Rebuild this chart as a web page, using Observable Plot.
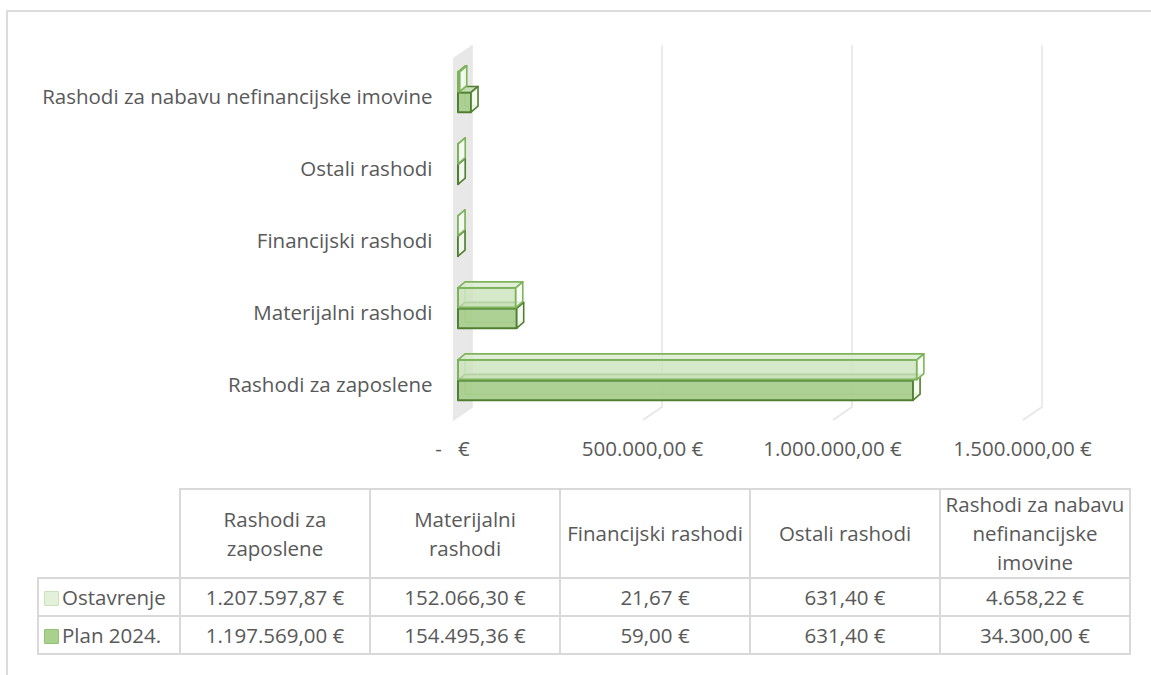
<!DOCTYPE html>
<html><head><meta charset="utf-8">
<script src="https://cdn.jsdelivr.net/npm/d3@7"></script>
<script src="https://cdn.jsdelivr.net/npm/@observablehq/plot@0.6"></script>
<style>
html,body{margin:0;padding:0;background:#fff;}
#wrap{position:relative;width:1151px;height:675px;overflow:hidden;font-family:"Open Sans",sans-serif;color:#595959;}
#frame{position:absolute;left:6px;top:10px;width:1200px;height:700px;border-left:2px solid #dcdcdc;border-top:2px solid #dcdcdc;}
#chart{position:absolute;left:0;top:0;}
#tbl{position:absolute;left:37px;top:488px;border-collapse:collapse;font-size:20.5px;table-layout:fixed;}
#tbl td{border:2px solid #d9d9d9;text-align:center;vertical-align:middle;padding:0 2px;color:#595959;}
#tbl tr.h td{height:85px;line-height:29px;white-space:pre-line;}
#tbl tr.r td{height:36px;line-height:26px;}
#tbl td.blank{border-top:none;border-left:none;}
#tbl td.ser{text-align:left;padding-left:5px;white-space:nowrap;}
.sw{display:inline-block;width:15px;height:15px;vertical-align:-1px;margin-right:3px;box-sizing:border-box;border-radius:1px;}
</style>
</head><body>
<div id="wrap"><div id="frame"></div><div id="chart"></div><table id="tbl"></table></div>
<script>
// ---- data ----
const categories = ["Rashodi za zaposlene", "Materijalni rashodi", "Financijski rashodi", "Ostali rashodi", "Rashodi za nabavu nefinancijske imovine"];
const tableHeaders = ["Rashodi za\nzaposlene", "Materijalni\nrashodi", "Financijski rashodi", "Ostali rashodi", "Rashodi za nabavu\nnefinancijske\nimovine"];
const seriesNames = ["Ostavrenje", "Plan 2024."];
const ostvarenje = [1207597.87, 152066.30, 21.67, 631.40, 4658.22];
const plan2024 = [1197569.00, 154495.36, 59.00, 631.40, 34300.00];
const xTicks = [0, 500000, 1000000, 1500000];

// ---- styling ----
const TXT = "#595959";
const FS = 20.5;
const style = {
  "Ostavrenje": {fill: "#cbe2bd", fillOpacity: 0.8, stroke: "#7db35a", top: "#dcecd2", side: "#f6fbf3", back: "#9ccb80", sw: "#e3f1da", swb: "#c9e3b8"},
  "Plan 2024.": {fill: "#a6cd8b", fillOpacity: 0.92, stroke: "#517f32", top: "#c2dcb0", side: "#f4f9f0", back: "#86b86a", sw: "#a9d18e", swb: "#93c276"}
};
const H = 0.28;       // half band per series in category units
const BX = 5;         // bar offset from the front plane (px)
const DX = 7, DY = 6; // bar depth (px)
const WX = 19, WY = 13; // wall/floor depth (px)

function fmtNum(v) {
  const s = d3.format(",.2f")(v);
  return s.replace(/,/g, "#").replace(".", ",").replace(/#/g, ".");
}
function fmtEuro(v) { return v === 0 ? "-\u00a0\u00a0\u00a0€" : fmtNum(v) + " €"; }

const rows = [];
categories.forEach((c, i) => {
  rows.push({cat: c, i, series: "Plan 2024.", value: plan2024[i], y1: i - H, y2: i - 0.006});
  rows.push({cat: c, i, series: "Ostavrenje", value: ostvarenje[i], y1: i + 0.006, y2: i + H});
});
const bySeries = s => rows.filter(r => r.series === s);

function findScales(args) {
  for (const a of args) if (a && typeof a.x === "function" && typeof a.y === "function") return a;
  return null;
}
const pts = a => a.map(p => p.join(",")).join(" ");

// wall + grid (3D frame)
function frameMark() {
  const sc = findScales(arguments);
  const sx = sc.x, sy = sc.y;
  const g = d3.create("svg:g");
  const bottom = sy(0) + 40, topFront = sy(categories.length - 1) - 34;
  const x0 = sx(0);
  g.append("polygon")
    .attr("points", pts([[x0, bottom], [x0, topFront], [x0 + WX, topFront - WY], [x0 + WX, bottom - WY]]))
    .attr("fill", "#e8e8e8");
  for (const v of xTicks) {
    const x = sx(v);
    g.append("polyline")
      .attr("points", pts([[x + WX, topFront - WY], [x + WX, bottom - WY], [x, bottom]]))
      .attr("fill", "none").attr("stroke", "#e6e6e6").attr("stroke-width", 1.6);
  }
  return g.node();
}

function backMark(s) {
  return function () {
    const sc = findScales(arguments);
    const sx = sc.x, sy = sc.y;
    const g = d3.create("svg:g");
    const st = style[s];
    for (const r of bySeries(s)) {
      const x1 = sx(0) + BX, x2 = sx(r.value) + BX, yt = sy(r.y2), yb = sy(r.y1);
      g.append("polyline")
        .attr("points", pts([[x1 + DX, yt - DY], [x1 + DX, yb - DY], [x2 + DX, yb - DY]]))
        .attr("fill", "none").attr("stroke", st.back).attr("stroke-width", 1.3);
    }
    return g.node();
  };
}

function faceMark(s) {
  return function () {
    const sc = findScales(arguments);
    const sx = sc.x, sy = sc.y;
    const g = d3.create("svg:g");
    const st = style[s];
    for (const r of bySeries(s)) {
      const x1 = sx(0) + BX, x2 = sx(r.value) + BX, yt = sy(r.y2), yb = sy(r.y1);
      g.append("polygon")
        .attr("points", pts([[x1, yt], [x2, yt], [x2 + DX, yt - DY], [x1 + DX, yt - DY]]))
        .attr("fill", st.top).attr("fill-opacity", 0.85).attr("stroke", st.stroke).attr("stroke-width", 1.6).attr("stroke-linejoin", "round");
      g.append("polygon")
        .attr("points", pts([[x2, yt], [x2 + DX, yt - DY], [x2 + DX, yb - DY], [x2, yb]]))
        .attr("fill", st.side).attr("fill-opacity", 0.85).attr("stroke", st.stroke).attr("stroke-width", 1.6).attr("stroke-linejoin", "round");
    }
    return g.node();
  };
}

function frontMark(s) {
  const st = style[s];
  return Plot.rect(bySeries(s), {
    x1: () => 0, x2: "value", y1: "y1", y2: "y2", dx: BX,
    fill: st.fill, fillOpacity: st.fillOpacity, stroke: st.stroke, strokeWidth: 2, strokeLinejoin: "round"
  });
}

const chart = Plot.plot({
  width: 1151,
  height: 480,
  style: {background: "transparent", fontFamily: "'Open Sans', sans-serif", color: TXT, overflow: "visible"},
  x: {domain: [0, 1500000], range: [453, 1023], axis: null},
  y: {domain: [0, categories.length - 1], range: [380, 92], axis: null},
  marks: [
    frameMark,
    backMark("Plan 2024."),
    frontMark("Plan 2024."),
    faceMark("Plan 2024."),
    backMark("Ostavrenje"),
    frontMark("Ostavrenje"),
    faceMark("Ostavrenje"),
    Plot.text(categories, {x: () => 0, y: (d, i) => i, text: d => d, textAnchor: "end", dx: -21, dy: 5, fontSize: FS, fill: TXT}),
    Plot.text(xTicks, {x: d => d, y: () => 0, text: d => fmtEuro(d), textAnchor: "middle", dx: -1, dy: 69, fontSize: FS, fill: TXT})
  ]
});
document.getElementById("chart").appendChild(chart);

// ---- data table ----
const tbl = d3.select("#tbl");
tbl.append("colgroup").selectAll("col").data([142].concat(categories.map(() => 190))).join("col").attr("style", d => `width:${d}px`);
const hr = tbl.append("tr").attr("class", "h");
hr.append("td").attr("class", "blank");
tableHeaders.forEach(c => hr.append("td").text(c));
const vals = {"Ostavrenje": ostvarenje, "Plan 2024.": plan2024};
seriesNames.forEach(s => {
  const tr = tbl.append("tr").attr("class", "r");
  const td = tr.append("td").attr("class", "ser");
  td.append("span").attr("class", "sw").style("background", style[s].sw).style("border", `1.5px solid ${style[s].swb}`);
  td.append("span").text(s);
  vals[s].forEach(v => tr.append("td").text(fmtNum(v) + " €"));
});
</script>
</body></html>
